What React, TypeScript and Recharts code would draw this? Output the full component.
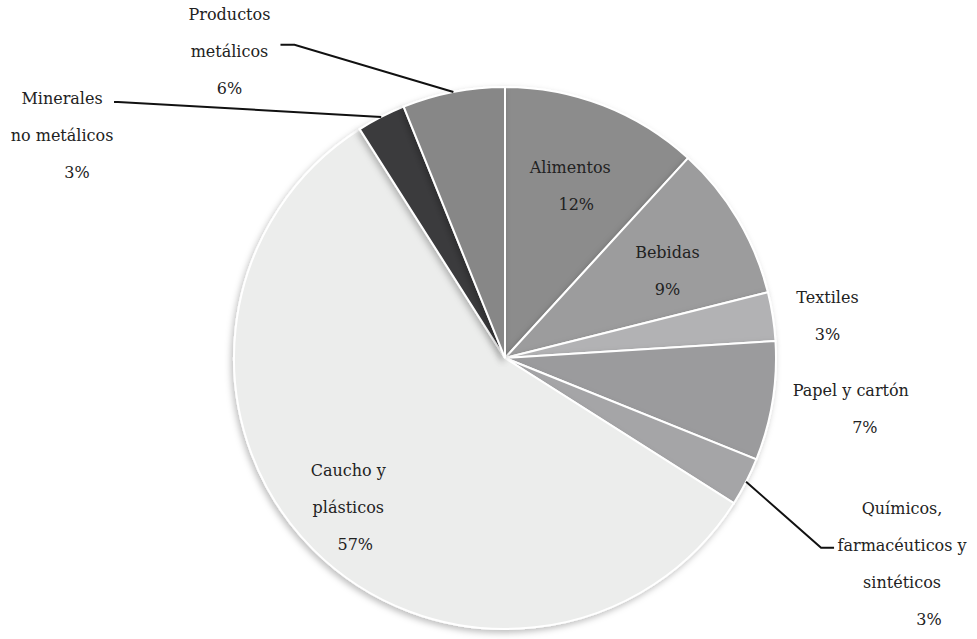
import { PieChart, Pie, Cell } from 'recharts'

const CATEGORIES = [
  'Alimentos',
  'Bebidas',
  'Textiles',
  'Papel y cartón',
  'Químicos,\nfarmacéuticos y\nsintéticos',
  'Caucho y\nplásticos',
  'Minerales\nno metálicos',
  'Productos\nmetálicos',
]
const SHARES = [11.8, 9.3, 2.9, 7.1, 2.9, 57.0, 2.9, 6.1]
const FILLS = ['#8c8c8c', '#9c9c9d', '#b2b2b4', '#9b9b9d', '#a5a5a7', '#ecedec', '#3b3b3d', '#878787']

// label placement: radius factor, angle shift (deg, clockwise), percent line nudge, optional leader elbow
const LABEL_LAYOUT = [
  { r: 0.68, da: -0.5, pctDx: 6 },
  { r: 0.68, da: 2.6, pctDx: 0 },
  { r: 1.2, da: 1.4, pctDx: 0 },
  { r: 1.29, da: -0.8, pctDx: 14 },
  { r: 1.65, da: 0.2, pctDx: 27, leader: { bend: [-81, -16], end: [-68, -16] } },
  { r: 0.8, da: 1.3, pctDx: 7 },
  { r: 1.83, da: -36.1, pctDx: 15, leader: { bend: [56, -33], end: [52, -33] } },
  { r: 1.52, da: -31, pctDx: 0, leader: { bend: [65, -7], end: [51, -7] } },
]

const data = CATEGORIES.map((name, i) => ({ name, value: SHARES[i] }))

const FONT = '"DejaVu Serif", serif'
const LINE_H = 37
const RAD = Math.PI / 180

const renderLabel = (props: any) => {
  const { cx, cy, midAngle, outerRadius, index } = props
  const cfg = LABEL_LAYOUT[index]
  // clockwise-from-top angle
  const a = (90 - midAngle + cfg.da) * RAD
  const lx = cx + outerRadius * cfg.r * Math.sin(a)
  const ly = cy - outerRadius * cfg.r * Math.cos(a)
  const lines = [...CATEGORIES[index].split('\n'), `${Math.round(SHARES[index])}%`]
  const top = ly - ((lines.length - 1) * LINE_H) / 2

  let leader = null
  if (cfg.leader) {
    const m = (90 - midAngle) * RAD
    const ex = cx + outerRadius * Math.sin(m)
    const ey = cy - outerRadius * Math.cos(m)
    const b = cfg.leader.bend
    const e = cfg.leader.end
    leader = (
      <polyline
        points={`${ex},${ey} ${lx + b[0]},${ly + b[1]} ${lx + e[0]},${ly + e[1]}`}
        fill="none"
        stroke="#111"
        strokeWidth={2}
      />
    )
  }

  return (
    <g>
      {leader}
      {lines.map((t, i) => (
        <text
          key={i}
          x={lx + (i === lines.length - 1 ? cfg.pctDx : 0)}
          y={top + i * LINE_H}
          textAnchor="middle"
          dominantBaseline="central"
          fontFamily={FONT}
          fontSize={16}
          fill="#222"
        >
          {t}
        </text>
      ))}
    </g>
  )
}

export default function App() {
  return (
    <div style={{ position: 'absolute', left: 0, top: 0, width: 977, height: 639, background: '#fff' }}>
      <PieChart width={977} height={639} margin={{ top: 0, right: 0, bottom: 0, left: 0 }}>
        <defs>
          <filter id="pieShadow" x="-10%" y="-10%" width="120%" height="120%">
            <feDropShadow dx="-2" dy="3" stdDeviation="3" floodColor="#000" floodOpacity="0.25" />
          </filter>
        </defs>
        <Pie
          data={data}
          dataKey="value"
          nameKey="name"
          cx={505}
          cy={358}
          outerRadius={271}
          startAngle={90}
          endAngle={-270}
          stroke="#fff"
          strokeWidth={2}
          label={renderLabel}
          labelLine={false}
          isAnimationActive={false}
          style={{ filter: 'url(#pieShadow)' }}
        >
          {data.map((d, i) => (
            <Cell key={d.name} fill={FILLS[i]} />
          ))}
        </Pie>
      </PieChart>
    </div>
  )
}
